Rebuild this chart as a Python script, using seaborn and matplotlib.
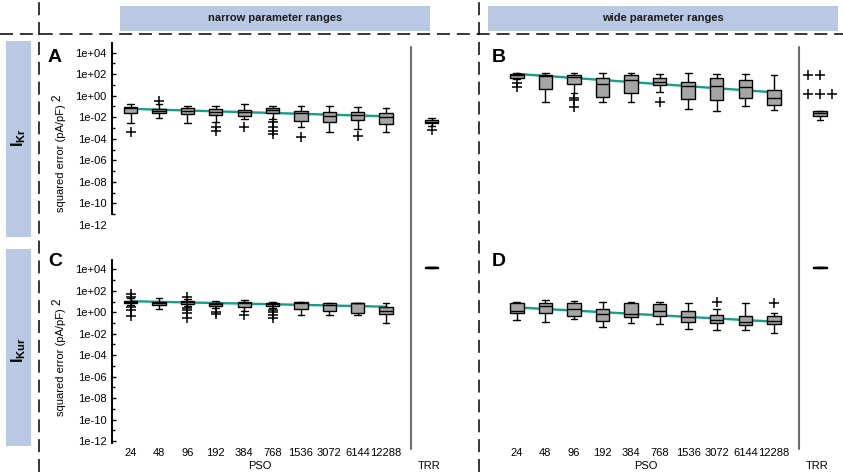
import numpy as np
import matplotlib
matplotlib.use("Agg")
import matplotlib.pyplot as plt
import seaborn as sns
from matplotlib.lines import Line2D
from matplotlib.patches import Rectangle
from matplotlib.ticker import FixedLocator, FuncFormatter

# ---------------- data: log10 of squared error (pA/pF)^2 ----------------
pso_sizes = ["24", "48", "96", "192", "384", "768", "1536", "3072", "6144", "12288"]

# Panel A: I_Kr, narrow parameter ranges
a_whislo = [-2.50, -2.10, -2.50, -2.44, -2.19, -2.19, -2.88, -3.34, -3.12, -3.40]
a_q1 = [-1.63, -1.63, -1.73, -1.79, -1.92, -1.60, -2.32, -2.41, -2.25, -2.65]
a_med = [-1.17, -1.39, -1.42, -1.51, -1.54, -1.33, -1.63, -1.92, -1.76, -2.00]
a_q3 = [-1.02, -1.26, -1.17, -1.26, -1.36, -1.17, -1.39, -1.54, -1.51, -1.63]
a_whishi = [-0.77, -0.77, -0.93, -0.95, -0.80, -0.95, -0.93, -0.95, -1.02, -1.11]
a_fliers = [[-3.34], [-0.49], [], [-2.94, -3.25], [-2.94],
            [-2.47, -2.94, -3.25, -3.58], [-3.81], [], [-3.71], []]
trr_a = [-2.81, -2.56, -2.41, -2.25, -2.10]
trr_a_fliers = [-3.18]

# Panel B: I_Kr, wide parameter ranges
b_whislo = [1.53, -0.58, 0.28, -0.61, -0.61, 0.35, -1.23, -1.42, -0.95, -1.33]
b_q1 = [1.65, 0.63, 1.12, -0.12, 0.25, 0.97, -0.30, -0.40, -0.24, -0.89]
b_med = [1.96, 1.83, 1.71, 1.12, 1.46, 1.25, 0.88, 0.88, 0.81, -0.18]
b_q3 = [2.02, 1.90, 1.93, 1.68, 1.90, 1.62, 1.30, 1.65, 1.43, 0.53]
b_whishi = [2.08, 2.08, 2.08, 2.08, 2.08, 1.99, 2.08, 2.05, 2.02, 1.93]
b_fliers = [[1.21, 0.78], [], [-0.24, -0.40, -1.05], [], [], [-0.55], [], [], [], []]
trr_b = [-2.28, -1.88, -1.65, -1.45, -1.45]
trr_b_fliers = [1.93, 1.93, 0.13, 0.13, 0.13]

# Panel C: I_Kur, narrow parameter ranges
c_whislo = [0.67, 0.27, 0.58, 0.36, 0.11, 0.42, -0.26, -0.26, -0.26, -0.98]
c_q1 = [0.83, 0.67, 0.77, 0.55, 0.46, 0.61, 0.30, 0.11, -0.10, -0.17]
c_med = [0.98, 0.90, 0.92, 0.80, 0.89, 0.77, 0.83, 0.67, 0.85, 0.12]
c_q3 = [1.07, 0.98, 1.05, 0.89, 0.98, 0.89, 0.92, 0.89, 0.89, 0.51]
c_whishi = [1.30, 1.30, 1.23, 1.05, 1.14, 0.98, 0.92, 0.89, 0.89, 0.83]
c_fliers = [[1.67, 1.45, 0.51, 0.21, -0.32], [], [1.45, 0.42, 0.21, -0.10, -0.51],
            [0.05, -0.17], [-0.30], [0.21, -0.01, -0.26, -0.51], [], [], [], []]
trr_c = [4.17, 4.17, 4.19, 4.21, 4.21]
trr_c_fliers = []

# Panel D: I_Kur, wide parameter ranges
d_whislo = [-0.72, -0.91, -0.60, -1.38, -0.98, -1.10, -1.54, -1.66, -1.66, -1.96]
d_q1 = [-0.10, -0.10, -0.38, -0.85, -0.47, -0.35, -0.94, -1.00, -1.16, -1.10]
d_med = [0.11, 0.58, 0.27, -0.17, -0.14, 0.11, -0.47, -0.70, -0.91, -0.82]
d_q3 = [0.89, 0.83, 0.83, 0.30, 0.83, 0.77, 0.14, -0.29, -0.35, -0.38]
d_whishi = [0.98, 1.11, 1.05, 0.95, 0.92, 0.98, 0.83, 0.27, 0.83, -0.04]
d_fliers = [[], [], [], [], [], [], [], [0.98], [], [0.83]]
trr_d = [4.17, 4.17, 4.19, 4.21, 4.21]
trr_d_fliers = []

# ---------------- style ----------------
sns.set_theme(style="white")
plt.rcParams["font.family"] = ["Liberation Sans", "DejaVu Sans"]
plt.rcParams.update({
    "mathtext.fontset": "custom",
    "mathtext.rm": "Liberation Sans",
    "mathtext.bf": "Liberation Sans:bold",
    "mathtext.it": "Liberation Sans:italic",
    "text.color": "black",
    "axes.labelcolor": "black",
    "xtick.color": "black",
    "ytick.color": "black",
})

W, H = 843, 472
fig = plt.figure(figsize=(W / 100, H / 100), dpi=100)


def frect(l, t, r, b):
    return [l / W, 1 - b / H, (r - l) / W, (b - t) / H]


def fx(x):
    return x / W


def fy(y):
    return 1 - y / H


BOX_FILL = "#a5a5a5"
TEAL = "#179e8b"
HEADER = "#b9c8e3"
YLIM = (-12.19, 4.87)
XLIM = (-0.66, 9.88)


def make_stats(whislo, q1, med, q3, whishi, fliers):
    return [dict(whislo=a, q1=b, med=c, q3=d, whishi=e, fliers=list(f))
            for a, b, c, d, e, f in zip(whislo, q1, med, q3, whishi, fliers)]


def draw_boxes(ax, stats, positions, width):
    ax.bxp(stats, positions=positions, widths=width, patch_artist=True,
           manage_ticks=False, zorder=3,
           boxprops=dict(facecolor=BOX_FILL, edgecolor="black", linewidth=1.0),
           medianprops=dict(color="black", linewidth=1.0),
           whiskerprops=dict(color="black", linewidth=1.0),
           capprops=dict(color="black", linewidth=1.0),
           flierprops=dict(marker="+", markersize=7, markeredgecolor="black",
                           markeredgewidth=1.1, linestyle="none"))


fmt = FuncFormatter(lambda v, p: f"{10.0 ** v:.0e}")

panels = [
    dict(row=0, col=0, letter="A", data=(a_whislo, a_q1, a_med, a_q3, a_whishi, a_fliers),
         trr=trr_a, trr_fl=trr_a_fliers, swarm=False),
    dict(row=0, col=1, letter="B", data=(b_whislo, b_q1, b_med, b_q3, b_whishi, b_fliers),
         trr=trr_b, trr_fl=trr_b_fliers, swarm=True),
    dict(row=1, col=0, letter="C", data=(c_whislo, c_q1, c_med, c_q3, c_whishi, c_fliers),
         trr=trr_c, trr_fl=trr_c_fliers, swarm=False),
    dict(row=1, col=1, letter="D", data=(d_whislo, d_q1, d_med, d_q3, d_whishi, d_fliers),
         trr=trr_d, trr_fl=trr_d_fliers, swarm=False),
]
rows = [dict(top=43.3, bottom=226.9, letter_y=58), dict(top=260, bottom=443, letter_y=262)]
cols = [dict(left=112, right=411, trr_right=452, letter_x=55, pso_x=260, trr_x=429),
        dict(left=498, right=799, trr_right=841, letter_x=499, pso_x=646, trr_x=817)]

positions = np.arange(len(pso_sizes))

for p in panels:
    r, c = rows[p["row"]], cols[p["col"]]
    ax = fig.add_axes(frect(c["left"], r["top"], c["right"], r["bottom"]))
    ax.set_facecolor("none")
    whislo, q1, med, q3, whishi, fliers = p["data"]
    draw_boxes(ax, make_stats(whislo, q1, med, q3, whishi, fliers), positions, 0.47)
    sns.regplot(x=positions, y=np.array(med), ax=ax, scatter=False, ci=None,
                truncate=True, color=TEAL, line_kws=dict(linewidth=1.7, zorder=1))
    ax.set_xlim(XLIM)
    ax.set_ylim(YLIM)
    ax.set_xlabel("")
    ax.set_ylabel("")
    for s in ["top", "right", "bottom", "left"]:
        ax.spines[s].set_visible(False)

    if p["col"] == 0:
        ax.spines["left"].set_visible(True)
        ax.spines["left"].set_color("black")
        ax.spines["left"].set_linewidth(1.4)
        ax.yaxis.set_major_locator(FixedLocator(list(range(-12, 5, 2))))
        ax.yaxis.set_minor_locator(FixedLocator(list(range(-11, 5, 2))))
        ax.yaxis.set_major_formatter(fmt)
        ax.tick_params(axis="y", which="both", left=True, direction="in",
                       width=1.0, labelsize=8, pad=4)
        ax.tick_params(axis="y", which="major", length=3.2)
        ax.tick_params(axis="y", which="minor", length=2.2)
        if p["row"] == 0:
            ax.spines["left"].set_bounds(-11, YLIM[1])
            ax.yaxis.get_major_ticks()[0].tick1line.set_visible(False)
    else:
        ax.set_yticks([])

    if p["row"] == 1:
        ax.set_xticks(positions)
        ax.set_xticklabels(pso_sizes)
        ax.tick_params(axis="x", length=0, labelsize=8, pad=3.5)
        fig.text(fx(c["pso_x"]), fy(466), "PSO", ha="center", va="center", fontsize=8)
        fig.text(fx(c["trr_x"]), fy(466), "TRR", ha="center", va="center", fontsize=8)
    else:
        ax.set_xticks([])

    # TRR column
    axt = fig.add_axes(frect(c["right"], r["top"], c["trr_right"], r["bottom"]))
    axt.set_facecolor("none")
    tstat = [dict(whislo=p["trr"][0], q1=p["trr"][1], med=p["trr"][2], q3=p["trr"][3],
                  whishi=p["trr"][4], fliers=([] if p["swarm"] else list(p["trr_fl"])))]
    draw_boxes(axt, tstat, [0], 0.31)
    axt.set_xlim(-0.5, 0.5)
    axt.set_ylim(YLIM)
    if p["swarm"]:
        sns.swarmplot(y=p["trr_fl"], ax=axt, marker="+", color="black", size=7,
                      linewidth=1.1, zorder=4)
        axt.set_xlim(-0.5, 0.5)
        axt.set_ylim(YLIM)
    axt.set_xticks([])
    axt.set_yticks([])
    axt.set_xlabel("")
    axt.set_ylabel("")
    for s in ["top", "right", "bottom", "left"]:
        axt.spines[s].set_visible(False)

    fig.text(fx(c["letter_x"]), fy(r["letter_y"]), p["letter"], ha="center", va="center",
             fontsize=14, fontweight="bold")

# separators between PSO and TRR
for xs in (411, 799):
    fig.add_artist(Line2D([fx(xs)] * 2, [fy(47), fy(449)], color="#6e6e6e", linewidth=1.5))

# header bars
for (l, t, r_, b), label in [((120, 6, 429.5, 30.7), "narrow parameter ranges"),
                             ((487.5, 6, 838, 30.7), "wide parameter ranges")]:
    fig.add_artist(Rectangle((fx(l), fy(b)), (r_ - l) / W, (b - t) / H,
                             facecolor=HEADER, edgecolor="none", transform=fig.transFigure))
    fig.text(fx((l + r_) / 2), fy((t + b) / 2), label, ha="center", va="center",
             fontsize=8, fontweight="bold", color="#1a1a1a")

# row label bars
for (t, b), label, cy in [((41, 236.7), r"$\mathbf{I}_{\mathbf{Kr}}$", 138),
                          ((249.3, 445.7), r"$\mathbf{I}_{\mathbf{Kur}}$", 350)]:
    fig.add_artist(Rectangle((fx(6), fy(b)), 25 / W, (b - t) / H,
                             facecolor=HEADER, edgecolor="none", transform=fig.transFigure))
    fig.text(fx(19), fy(cy), label, ha="center", va="center", fontsize=11.5, rotation=90)

# y-axis labels
for cy_main, cy_sup in [(158, 97.5), (362, 301.5)]:
    fig.text(fx(61.5), fy(cy_main), "squared error (pA/pF)", ha="center", va="center",
             fontsize=8, rotation=90)
    fig.text(fx(57.5), fy(cy_sup), "2", ha="center", va="center", fontsize=8.5, rotation=90)

# dashed guide lines
dash = (0, (8.5, 4.5))
fig.add_artist(Line2D([0, 1], [fy(34)] * 2, color="black", linewidth=1.1, linestyle=dash))
for xs in (39, 479):
    fig.add_artist(Line2D([fx(xs)] * 2, [0, 1], color="black", linewidth=1.1, linestyle=dash))

fig.savefig("out.png", dpi=100)
